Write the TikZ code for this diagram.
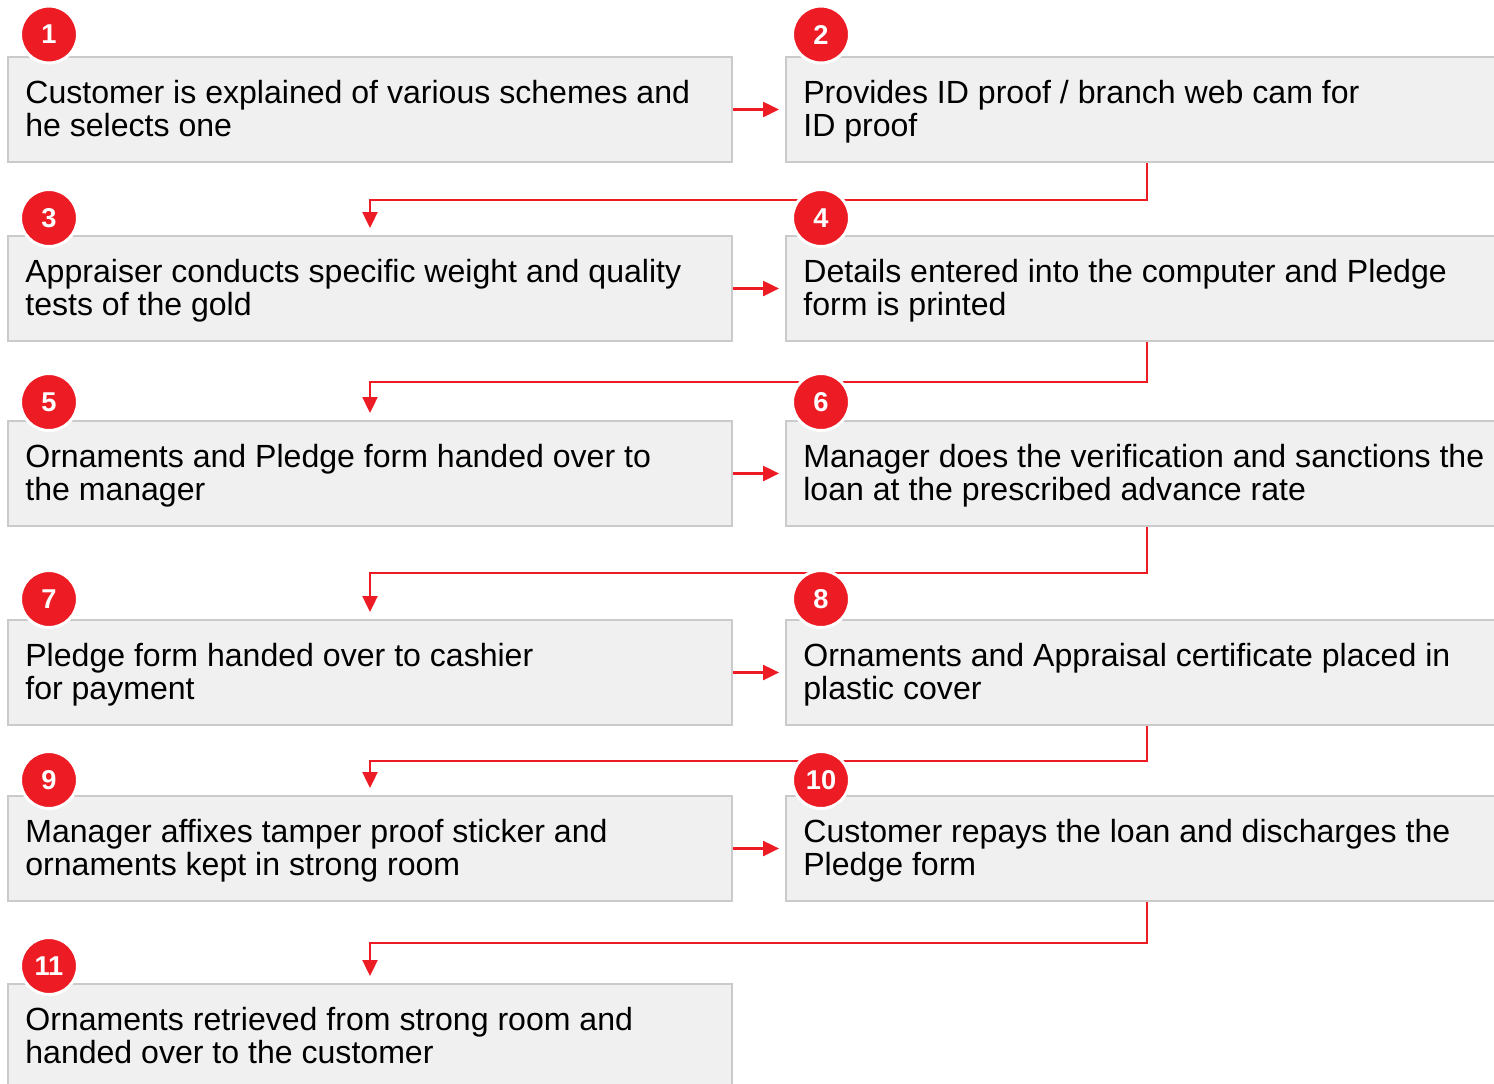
\documentclass[tikz,border=0pt]{standalone}
\usepackage{fontspec}
\setmainfont{Liberation Sans}
\usetikzlibrary{arrows.meta}
\definecolor{stepred}{HTML}{ED1C24}
\definecolor{boxfill}{HTML}{F0F0F0}
\definecolor{boxline}{HTML}{CACACA}
\newcommand{\lnstrut}{\rule{0pt}{0.52cm}}
\begin{document}
\begin{tikzpicture}[x=0.02cm,y=-0.02cm,
 stepbox/.style={draw=boxline, fill=boxfill, line width=0.04cm, minimum width=14.48cm, minimum height=2.1cm, inner sep=0pt},
 steptext/.style={anchor=north west, inner sep=0pt, align=left, font=\fontsize{18.25}{18.71}\selectfont, text=black},
 badge/.style={circle, fill=stepred, draw=white, line width=0.06cm, minimum size=1.14cm, inner sep=0pt, text=white, font=\fontsize{15.5}{17}\selectfont\bfseries},
 conn/.style={draw=stepred, line width=0.045cm, -{Triangle[length=0.32cm,width=0.3cm]}},
]
\useasboundingbox (0,0) rectangle (1494,1083);
\clip (0,0) rectangle (1494,1083);
% boxes
\node[stepbox] (b1) at (370,109.5) {};
\node[stepbox] (b2) at (1148,109.5) {};
\node[stepbox] (b3) at (370,288.5) {};
\node[stepbox] (b4) at (1148,288.5) {};
\node[stepbox] (b5) at (370,473.5) {};
\node[stepbox] (b6) at (1148,473.5) {};
\node[stepbox] (b7) at (370,672.5) {};
\node[stepbox] (b8) at (1148,672.5) {};
\node[stepbox] (b9) at (370,848.5) {};
\node[stepbox] (b10) at (1148,848.5) {};
\node[stepbox] (b11) at (370,1036.5) {};
% texts
\node[steptext] (t1) at (25,77.5) {\lnstrut Customer is explained of various schemes and\\he selects one};
\node[steptext] (t2) at (803,77.5) {\lnstrut Provides ID proof / branch web cam for\\ID proof};
\node[steptext] (t3) at (25,256.5) {\lnstrut Appraiser conducts specific weight and quality\\tests of the gold};
\node[steptext] (t4) at (803,256.5) {\lnstrut Details entered into the computer and Pledge\\form is printed};
\node[steptext] (t5) at (25,441.5) {\lnstrut Ornaments and Pledge form handed over to\\the manager};
\node[steptext] (t6) at (803,441.5) {\lnstrut Manager does the verification and sanctions the\\loan at the prescribed advance rate};
\node[steptext] (t7) at (25,640.5) {\lnstrut Pledge form handed over to cashier\\for payment};
\node[steptext] (t8) at (803,640.5) {\lnstrut Ornaments and Appraisal certificate placed in\\plastic cover};
\node[steptext] (t9) at (25,816.5) {\lnstrut Manager affixes tamper proof sticker and\\ornaments kept in strong room};
\node[steptext] (t10) at (803,816.5) {\lnstrut Customer repays the loan and discharges the\\Pledge form};
\node[steptext] (t11) at (25,1004.5) {\lnstrut Ornaments retrieved from strong room and\\handed over to the customer};
% connectors
\draw[conn, shorten >=0.12cm] (b1.east) -- (b2.west);
\draw[conn, shorten >=0.12cm] (b3.east) -- (b4.west);
\draw[conn, shorten >=0.12cm] (b5.east) -- (b6.west);
\draw[conn, shorten >=0.12cm] (b7.east) -- (b8.west);
\draw[conn, shorten >=0.12cm] (b9.east) -- (b10.west);
\draw[conn, shorten >=0.14cm] ([xshift=-0.02cm]b2.south) -- ++(0,37) -| (b3.north);
\draw[conn, shorten >=0.14cm] ([xshift=-0.02cm]b4.south) -- ++(0,40) -| (b5.north);
\draw[conn, shorten >=0.14cm] ([xshift=-0.02cm]b6.south) -- ++(0,46) -| (b7.north);
\draw[conn, shorten >=0.14cm] ([xshift=-0.02cm]b8.south) -- ++(0,35) -| (b9.north);
\draw[conn, shorten >=0.14cm] ([xshift=-0.02cm]b10.south) -- ++(0,41) -| (b11.north);
% badges
\node[badge] (c1) at (49,34.5) {1};
\node[badge] (c2) at (821,34.5) {2};
\node[badge] (c3) at (49,218) {3};
\node[badge] (c4) at (821,218) {4};
\node[badge] (c5) at (49,402) {5};
\node[badge] (c6) at (821,402) {6};
\node[badge] (c7) at (49,599) {7};
\node[badge] (c8) at (821,599) {8};
\node[badge] (c9) at (49,780) {9};
\node[badge] (c10) at (821,780) {10};
\node[badge] (c11) at (49,966) {11};
\end{tikzpicture}
\end{document}
